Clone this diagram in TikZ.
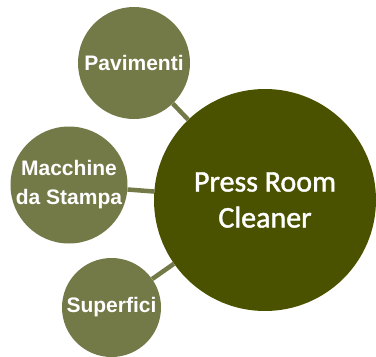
\documentclass[tikz,border=0pt]{standalone}
\usepackage{fontspec}
\newfontfamily\labelfont[BoldFont={Liberation Sans Bold}]{Liberation Sans}
\newfontfamily\hubfont[FakeBold=1.4]{Carlito}
\definecolor{olivelight}{RGB}{115,122,72}
\definecolor{olivedark}{RGB}{74,82,0}
\begin{document}
\begin{tikzpicture}[x=1pt,y=-1pt,
  sat/.style={circle, fill=olivelight, inner sep=0pt, minimum size=#1, text=white,
    font=\labelfont\bfseries\fontsize{21}{29}\selectfont, align=center},
  hub/.style={circle, fill=olivedark, inner sep=0pt, minimum size=#1, text=white,
    font=\hubfont\fontsize{30}{36}\selectfont, align=center},
  link/.style={draw=olivelight, line width=4.5pt}]
\useasboundingbox (0,0) rectangle (376,357);
\node[hub=222pt] (c) at (265,200) {Press Room\\Cleaner};
\node[sat=112pt] (p) at (134,63) {Pavimenti};
\node[sat=117pt] (m) at (69,185) {Macchine\\da Stampa};
\node[sat=99pt] (s) at (111.5,307.5) {Superfici};
\draw[link] (p) -- (c);
\draw[link] (m) -- (c);
\draw[link] (s) -- (c);
\end{tikzpicture}
\end{document}
